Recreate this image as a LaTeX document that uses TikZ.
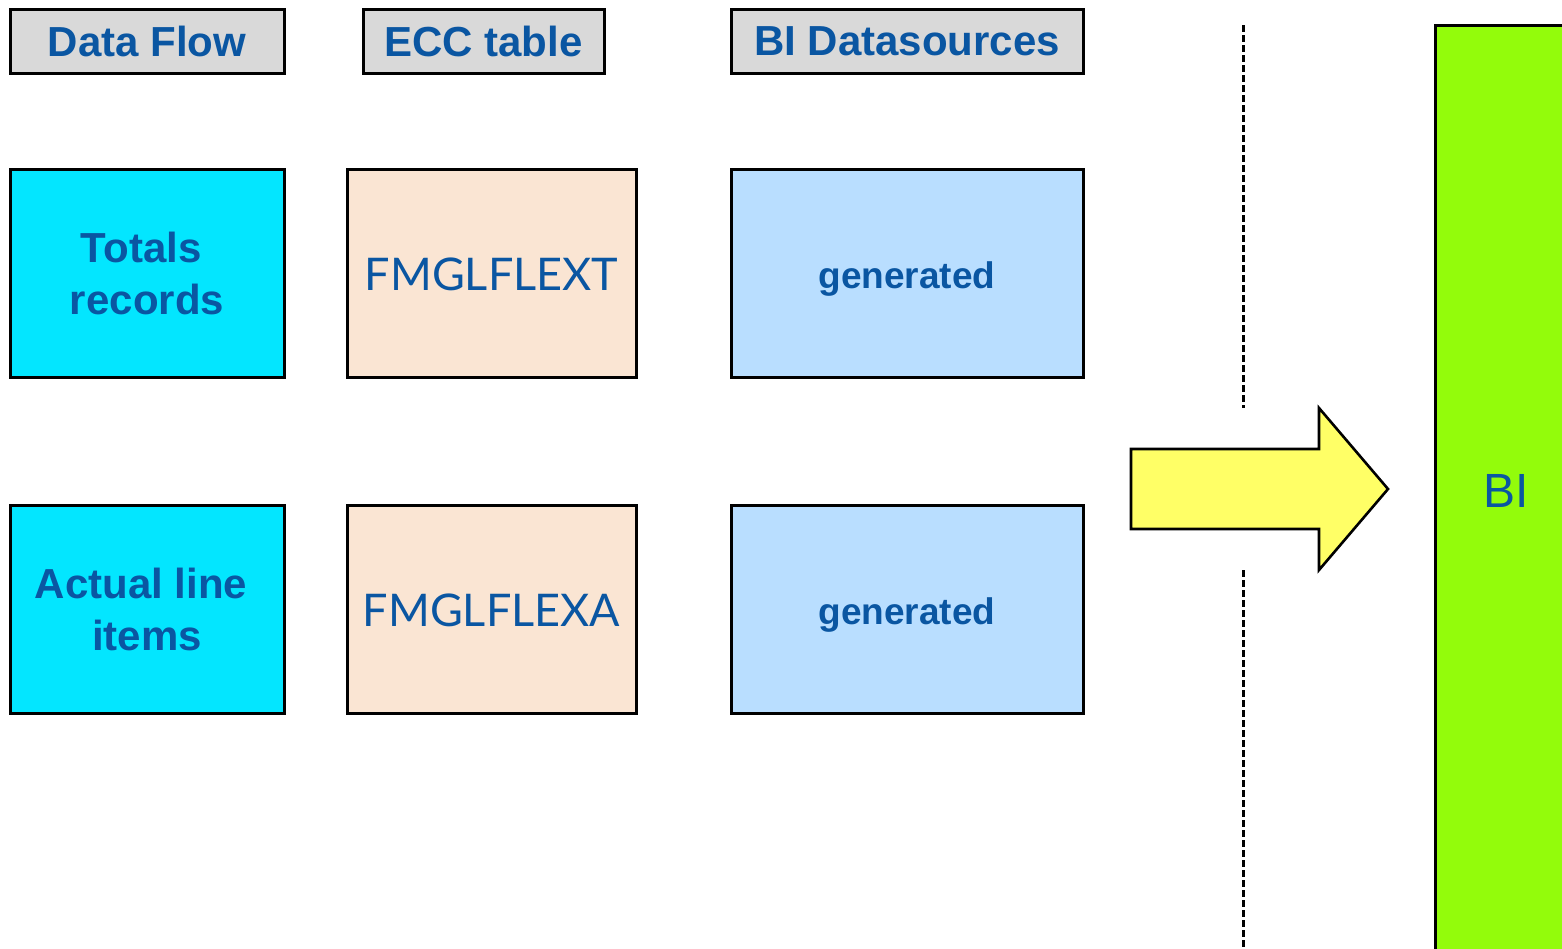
\documentclass[tikz,border=0pt]{standalone}
\usepackage{fontspec}
\setmainfont{Liberation Sans}
\newfontfamily\tablefont{Lato}
\newcommand{\lowered}[2]{\raisebox{-#1}[0pt][0pt]{#2}}
\begin{document}
\begin{tikzpicture}[x=1pt,y=-1pt,
  every node/.style={inner sep=0pt, outer sep=0pt},
  txt/.style={text=textblue, align=center},
  box/.style={draw=black, line width=3pt, rectangle, anchor=north west},
  hdr/.style={box, fill=hdrgray, txt, font=\fontsize{42}{50}\selectfont\bfseries},
  flowbox/.style={box, fill=flowcyan, txt, font=\fontsize{42}{52}\selectfont\bfseries},
  tablebox/.style={box, fill=tablepeach, txt, font=\tablefont\fontsize{45}{54}\selectfont},
  dsbox/.style={box, fill=dsblue, txt, font=\fontsize{37}{44}\selectfont\bfseries},
  divider/.style={line width=3pt, dash pattern=on 7pt off 3pt},
]
\definecolor{textblue}{HTML}{0A56A2}
\definecolor{hdrgray}{HTML}{D9D9D9}
\definecolor{flowcyan}{HTML}{03E6FF}
\definecolor{tablepeach}{HTML}{FAE5D3}
\definecolor{dsblue}{HTML}{B9DEFF}
\definecolor{bigreen}{HTML}{93FC0B}
\definecolor{arrowyellow}{HTML}{FFFF66}

\useasboundingbox (0,0) rectangle (1562,948);

% column headers
\node[hdr, minimum width=274pt, minimum height=64pt] (hflow) at (10,9) {Data Flow};
\node[hdr, minimum width=241pt, minimum height=64pt] (hecc) at (363,9) {ECC table};
\node[hdr, minimum width=352pt, minimum height=64pt] (hbi) at (731,9) {BI Datasources};

% totals row
\node[flowbox, minimum width=274pt, minimum height=208pt] (tot) at (10,169) {Totals\kern0.278em\\records};
\node[tablebox, minimum width=289pt, minimum height=208pt] (flext) at (347,169) {\lowered{17pt}{FMGLFLEXT}};
\node[dsbox, minimum width=352pt, minimum height=208pt] (gent) at (731,169) {\lowered{15pt}{generated}};

% line items row
\node[flowbox, minimum width=274pt, minimum height=208pt] (act) at (10,505) {Actual line\kern0.278em\\items};
\node[tablebox, minimum width=289pt, minimum height=208pt] (flexa) at (347,505) {\lowered{17pt}{FMGLFLEXA}};
\node[dsbox, minimum width=352pt, minimum height=208pt] (gena) at (731,505) {\lowered{15pt}{generated}};

% vertical divider, interrupted by the transfer arrow
\coordinate (d1) at (1243,25);
\coordinate (d2) at (1243,408);
\coordinate (d3) at (1243,570);
\coordinate (d4) at (1243,948);
\draw[divider] (d1) -- (d2);
\draw[divider] (d3) -- (d4);

% transfer arrow
\draw[fill=arrowyellow, line width=2.6pt, line join=miter]
  (1131,449) -- (1319,449) -- (1319,408) -- (1388,489) -- (1319,570)
  -- (1319,529) -- (1131,529) -- cycle;

% BI target, running off the page
\begin{scope}
  \clip (0,0) rectangle (1562,948);
  \draw[fill=bigreen, line width=3pt] (1435,25) rectangle (1600,1000);
\end{scope}
\node[txt, font=\fontsize{48}{56}\selectfont, anchor=base] (bi) at (1506,507) {BI};
\end{tikzpicture}
\end{document}
